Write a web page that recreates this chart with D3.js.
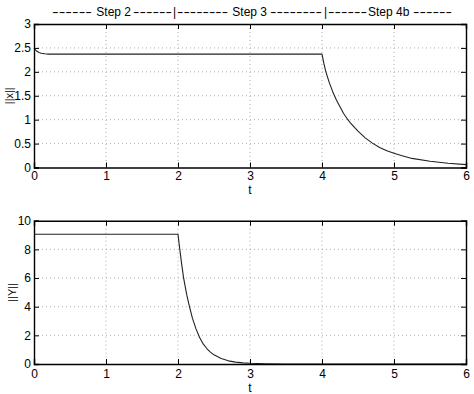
<!DOCTYPE html>
<html>
<head>
<meta charset="utf-8">
<script src="https://cdn.jsdelivr.net/npm/d3@7"></script>
<style>
  body { margin: 0; background: #fff; }
  text { font-family: "Liberation Sans", Arial, sans-serif; }
</style>
</head>
<body>
<div id="viz"></div>
<script>
// title pieces: [text, x start, x end (dash runs are stretched to fit)]
const titleParts = [
    ['------', 52, 92], [' Step 2 ', 93, null], ['------', 133, 172], ['|', 173, null],
    ['--------', 177, 228], [' Step 3 ', 229, null], ['--------', 270, 322], ['|', 324, null],
    ['------', 328, 367], ['Step 4b', 368, null], ['------', 413, 452]
];

const xTicks = [0, 1, 2, 3, 4, 5, 6];
const xTicksY = [0, 0.5, 1, 1.5, 2, 2.5, 3];
const yTicksY = [0, 2, 4, 6, 8, 10];

// ||x|| vs t
const tX = [0, 0.02, 0.04, 0.07, 0.1, 0.15, 0.2, 1, 2, 3, 4.0,
            4.025, 4.05, 4.1, 4.15, 4.2, 4.25, 4.3, 4.355, 4.4, 4.5, 4.6, 4.7, 4.8, 4.9, 5.0, 5.1, 5.25, 5.5, 5.75, 6];
const normX = [2.5, 2.46, 2.43, 2.405, 2.39, 2.378, 2.37, 2.37, 2.37, 2.37, 2.37,
               2.18, 2.02, 1.78, 1.58, 1.41, 1.27, 1.13, 1.01, 0.92, 0.76, 0.62, 0.51, 0.42, 0.35, 0.30, 0.25, 0.19, 0.13, 0.09, 0.06];

// ||Y|| vs t
const tY = [0, 1, 2.0, 2.025, 2.05, 2.075, 2.1, 2.125, 2.15, 2.2, 2.25, 2.3, 2.35, 2.4, 2.45, 2.5, 2.6, 2.7, 2.8, 2.9, 3.0, 3.2, 3.5, 4, 5, 6];
const normY = [9.05, 9.05, 9.05, 8.0, 7.0, 6.1, 5.4, 4.75, 4.2, 3.2, 2.45, 1.85, 1.4, 1.08, 0.83, 0.64, 0.38, 0.22, 0.13, 0.08, 0.05, 0.02, 0.005, 0, 0, 0];

const width = 474;
const height = 394;

const svg = d3.select('#viz')
    .append('svg')
    .attr('width', width)
    .attr('height', height);

function buildPanel(opts) {
    const left = 34, right = 466;
    const x = d3.scaleLinear().domain([0, 6]).range([left, right]);
    const y = d3.scaleLinear().domain(opts.yDomain).range([opts.bottom, opts.top]);

    const g = svg.append('g');

    // grid
    g.selectAll('.vgrid')
     .data(xTicks.slice(1, -1))
     .enter()
     .append('line')
     .attr('x1', d => x(d)).attr('x2', d => x(d))
     .attr('y1', opts.top).attr('y2', opts.bottom)
     .attr('stroke', '#9a9a9a').attr('stroke-width', 0.8)
     .attr('stroke-dasharray', '1,3');

    g.selectAll('.hgrid')
     .data(opts.yTicks.slice(1, -1))
     .enter()
     .append('line')
     .attr('x1', left).attr('x2', right)
     .attr('y1', d => y(d)).attr('y2', d => y(d))
     .attr('stroke', '#9a9a9a').attr('stroke-width', 0.8)
     .attr('stroke-dasharray', '1,3');

    // data line
    const line = d3.line()
        .x(d => x(d[0]))
        .y(d => y(d[1]));

    g.append('path')
     .datum(opts.t.map((t, i) => [t, opts.v[i]]))
     .attr('d', line)
     .attr('fill', 'none')
     .attr('stroke', '#222')
     .attr('stroke-width', 1.1)
     .attr('stroke-linejoin', 'round');

    // axes (inward ticks, MATLAB style)
    const xBottom = d3.axisBottom(x).tickValues(xTicks).tickSize(-5).tickPadding(opts.pad).tickFormat(d3.format('d'));
    const xTop = d3.axisTop(x).tickValues(xTicks).tickSize(-5).tickFormat('');
    const yLeft = d3.axisLeft(y).tickValues(opts.yTicks).tickSize(-5).tickPadding(3).tickFormat(d => String(d));
    const yRight = d3.axisRight(y).tickValues(opts.yTicks).tickSize(-5).tickFormat('');

    [
        [xBottom, 'translate(0,' + opts.bottom + ')'],
        [xTop, 'translate(0,' + opts.top + ')'],
        [yLeft, 'translate(' + left + ',0)'],
        [yRight, 'translate(' + right + ',0)']
    ].forEach(a => {
        const ax = g.append('g').attr('transform', a[1]).call(a[0]);
        ax.select('.domain').attr('stroke', '#000').attr('stroke-width', 1.4);
        ax.selectAll('.tick line').attr('stroke', '#000');
        ax.selectAll('text')
          .attr('font-size', 12)
          .attr('fill', '#000')
          .style('font-family', '"Liberation Sans", Arial, sans-serif');
    });

    g.append('text')
     .attr('x', (left + right) / 2)
     .attr('y', opts.bottom + opts.tGap)
     .attr('text-anchor', 'middle')
     .attr('font-size', 12)
     .text('t');

    const cy = (opts.top + opts.bottom) / 2;
    g.append('text')
     .attr('transform', 'translate(' + opts.labelX + ',' + cy + ') rotate(-90)')
     .attr('text-anchor', 'middle')
     .attr('font-size', 11)
     .text(opts.label);
}

buildPanel({
    top: 24, bottom: 167.5,
    yDomain: [0, 3], yTicks: xTicksY,
    t: tX, v: normX,
    label: '||x||', labelX: 13, tGap: 26.5, pad: 4
});

buildPanel({
    top: 220.7, bottom: 364,
    yDomain: [0, 10], yTicks: yTicksY,
    t: tY, v: normY,
    label: '||Y||', labelX: 16, tGap: 27.5, pad: 5
});

const title = svg.append('text')
   .attr('y', 16)
   .attr('font-size', 12)
   .attr('xml:space', 'preserve')
   .style('white-space', 'pre');

titleParts.forEach(p => {
    const ts = title.append('tspan').attr('x', p[1]).text(p[0]);
    if (p[2] !== null) {
        ts.attr('textLength', p[2] - p[1]).attr('lengthAdjust', 'spacingAndGlyphs');
    }
});
</script>
</body>
</html>
